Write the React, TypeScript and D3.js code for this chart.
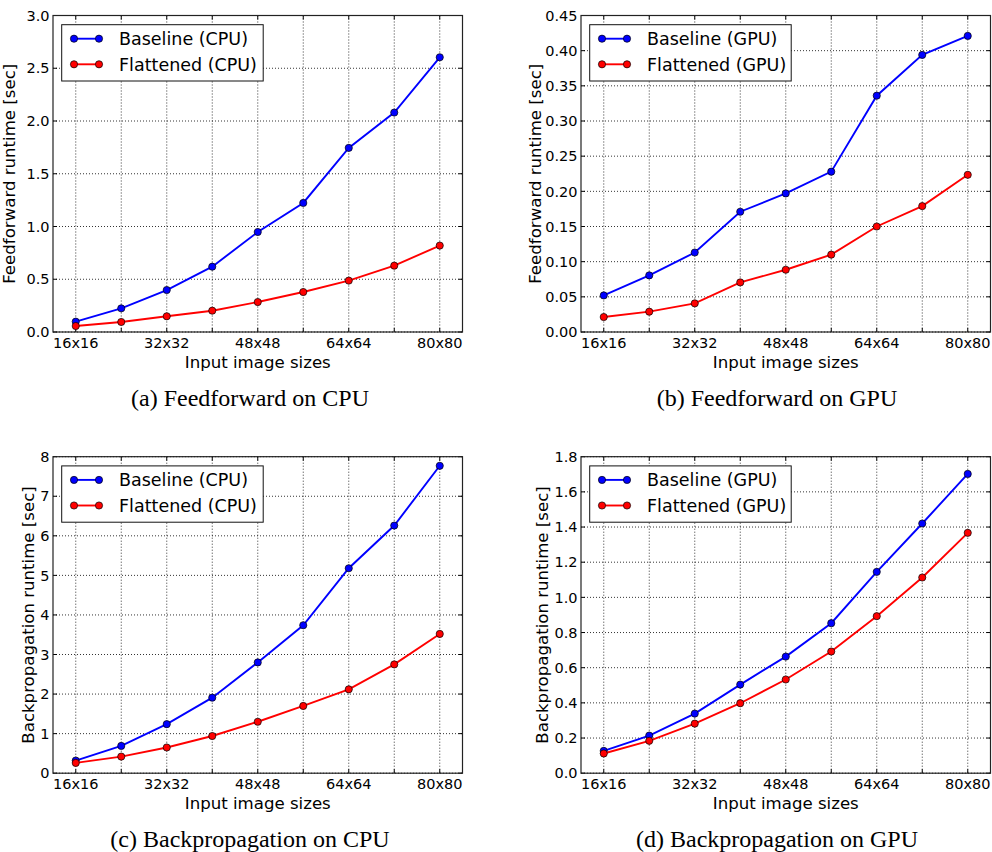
import React from "react";
import * as d3 from "d3";

// ---- data ----
const sizes = [16, 24, 32, 40, 48, 56, 64, 72, 80];
const sizeLabels = ["16x16", "", "32x32", "", "48x48", "", "64x64", "", "80x80"];

const ffCpuBaseline = [0.098, 0.224, 0.398, 0.619, 0.948, 1.223, 1.745, 2.08, 2.604];
const ffCpuFlattened = [0.057, 0.095, 0.149, 0.202, 0.284, 0.379, 0.487, 0.629, 0.819];

const ffGpuBaseline = [0.052, 0.0805, 0.113, 0.171, 0.197, 0.228, 0.336, 0.394, 0.421];
const ffGpuFlattened = [0.0213, 0.0289, 0.0407, 0.0705, 0.0885, 0.11, 0.15, 0.179, 0.2235];

const bpCpuBaseline = [0.32, 0.69, 1.24, 1.91, 2.8, 3.74, 5.18, 6.26, 7.77];
const bpCpuFlattened = [0.26, 0.42, 0.65, 0.94, 1.3, 1.7, 2.12, 2.75, 3.52];

const bpGpuBaseline = [0.127, 0.214, 0.339, 0.504, 0.663, 0.853, 1.145, 1.42, 1.702];
const bpGpuFlattened = [0.112, 0.184, 0.282, 0.398, 0.533, 0.692, 0.893, 1.113, 1.367];

const xLabel = "Input image sizes";

type PanelCfg = {
  left: number;
  top: number;
  yMax: number;
  yStep: number;
  dec: number;
  base: number[];
  flat: number[];
  dev: string;
  ylabel: string;
  ylabelX: number;
  caption: string;
  capX: number;
};

const PW = 409.5;
const PH = 316.5;
const SANS = "'DejaVu Sans', sans-serif";
const SERIF = "'Liberation Serif', 'Times New Roman', serif";

const panels: PanelCfg[] = [
  { left: 53, top: 15.5, yMax: 3.0, yStep: 0.5, dec: 1, base: ffCpuBaseline, flat: ffCpuFlattened, dev: "CPU", ylabel: "Feedforward runtime [sec]", ylabelX: 15, caption: "(a) Feedforward on CPU", capX: 250 },
  { left: 581, top: 15.5, yMax: 0.45, yStep: 0.05, dec: 2, base: ffGpuBaseline, flat: ffGpuFlattened, dev: "GPU", ylabel: "Feedforward runtime [sec]", ylabelX: 541, caption: "(b) Feedforward on GPU", capX: 777 },
  { left: 53, top: 456.7, yMax: 8, yStep: 1, dec: 0, base: bpCpuBaseline, flat: bpCpuFlattened, dev: "CPU", ylabel: "Backpropagation runtime [sec]", ylabelX: 34, caption: "(c) Backpropagation on CPU", capX: 250 },
  { left: 581, top: 456.7, yMax: 1.8, yStep: 0.2, dec: 1, base: bpGpuBaseline, flat: bpGpuFlattened, dev: "GPU", ylabel: "Backpropagation runtime [sec]", ylabelX: 548, caption: "(d) Backpropagation on GPU", capX: 777 },
];

function Panel({ cfg }: { cfg: PanelCfg }) {
  const { left, top } = cfg;
  const x = d3.scaleLinear().domain([12, 84]).range([left, left + PW]);
  const y = d3.scaleLinear().domain([0, cfg.yMax]).range([top + PH, top]);
  const yTicks = d3.range(0, Math.round(cfg.yMax / cfg.yStep) + 1).map((i) => +(i * cfg.yStep).toFixed(6));
  const fmt = d3.format(`.${cfg.dec}f`);
  const line = d3
    .line<number>()
    .x((_, i) => x(sizes[i]))
    .y((d) => y(d));
  const bottom = top + PH;
  const right = left + PW;
  const series = [
    { data: cfg.base, color: "#0000ff", name: `Baseline (${cfg.dev})` },
    { data: cfg.flat, color: "#ff0000", name: `Flattened (${cfg.dev})` },
  ];
  const lgX = left + 8.7;
  const lgY = top + 9.2;
  return (
    <g>
      {/* grid */}
      {sizes.map((s) => (
        <line key={"gx" + s} x1={x(s)} x2={x(s)} y1={top} y2={bottom} stroke="#000" strokeWidth={0.8} strokeDasharray="1,2" />
      ))}
      {yTicks.map((t) => (
        <line key={"gy" + t} x1={left} x2={right} y1={y(t)} y2={y(t)} stroke="#000" strokeWidth={0.8} strokeDasharray="1,2" />
      ))}
      {/* ticks inward */}
      {sizes.map((s) => (
        <g key={"tx" + s}>
          <line x1={x(s)} x2={x(s)} y1={bottom} y2={bottom - 4} stroke="#000" strokeWidth={1} />
          <line x1={x(s)} x2={x(s)} y1={top} y2={top + 4} stroke="#000" strokeWidth={1} />
        </g>
      ))}
      {yTicks.map((t) => (
        <g key={"ty" + t}>
          <line x1={left} x2={left + 4} y1={y(t)} y2={y(t)} stroke="#000" strokeWidth={1} />
          <line x1={right} x2={right - 4} y1={y(t)} y2={y(t)} stroke="#000" strokeWidth={1} />
        </g>
      ))}
      {/* series */}
      {series.map((sr) => (
        <g key={sr.name}>
          <path d={line(sr.data) || ""} fill="none" stroke={sr.color} strokeWidth={1.9} />
          {sr.data.map((v, i) => (
            <circle key={i} cx={x(sizes[i])} cy={y(v)} r={3.6} fill={sr.color} stroke="#000" strokeWidth={0.7} />
          ))}
        </g>
      ))}
      {/* frame */}
      <rect x={left} y={top} width={PW} height={PH} fill="none" stroke="#222" strokeWidth={1.2} />
      {/* tick labels */}
      {sizes.map((s, i) =>
        sizeLabels[i] ? (
          <text key={"lx" + s} x={x(s)} y={bottom + 15.5} textAnchor="middle" fontFamily={SANS} fontSize={14.5} fill="#000">
            {sizeLabels[i]}
          </text>
        ) : null
      )}
      {yTicks.map((t) => (
        <text key={"ly" + t} x={left - 3.5} y={y(t) + 5.2} textAnchor="end" fontFamily={SANS} fontSize={14.5} fill="#000">
          {fmt(t)}
        </text>
      ))}
      {/* axis labels */}
      <text x={(left + right) / 2} y={bottom + 35.5} textAnchor="middle" fontFamily={SANS} fontSize={16.6} fill="#000">
        {xLabel}
      </text>
      <text transform={`translate(${cfg.ylabelX},${(top + bottom) / 2}) rotate(-90)`} textAnchor="middle" fontFamily={SANS} fontSize={16.6} fill="#000">
        {cfg.ylabel}
      </text>
      {/* legend */}
      <rect x={lgX} y={lgY} width={201.5} height={56.3} fill="#fff" stroke="#111" strokeWidth={1} />
      {series.map((sr, k) => {
        const ey = top + 23.2 + k * 25.6;
        return (
          <g key={"lg" + k}>
            <line x1={left + 21} x2={left + 46} y1={ey} y2={ey} stroke={sr.color} strokeWidth={1.9} />
            <circle cx={left + 21} cy={ey} r={3.6} fill={sr.color} stroke="#000" strokeWidth={0.7} />
            <circle cx={left + 46} cy={ey} r={3.6} fill={sr.color} stroke="#000" strokeWidth={0.7} />
            <text x={left + 66} y={ey + 6.3} fontFamily={SANS} fontSize={17.5} fill="#000">
              {sr.name}
            </text>
          </g>
        );
      })}
      {/* caption */}
      <text x={cfg.capX} y={bottom + 73.7} textAnchor="middle" fontFamily={SERIF} fontSize={24} fill="#000">
        {cfg.caption}
      </text>
    </g>
  );
}

export default function App() {
  return (
    <svg width={992} height={852} style={{ position: "absolute", left: 0, top: 0, display: "block", background: "#fff" }}>
      <rect x={0} y={0} width={992} height={852} fill="#fff" />
      {panels.map((p) => (
        <Panel key={p.caption} cfg={p} />
      ))}
    </svg>
  );
}
